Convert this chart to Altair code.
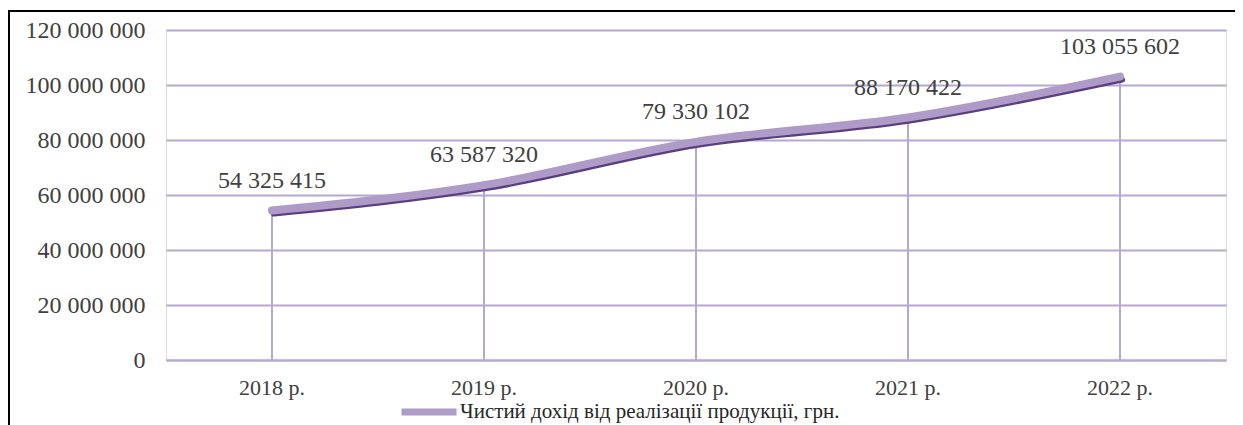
import altair as alt
import pandas as pd

years = ["2018 р.", "2019 р.", "2020 р.", "2021 р.", "2022 р."]
values = [54325415, 63587320, 79330102, 88170422, 103055602]
series_name = "Чистий дохід від реалізації продукції, грн."
y_ticks = [0, 20000000, 40000000, 60000000, 80000000, 100000000, 120000000]

df = pd.DataFrame({"year": years, "value": values, "series": [series_name] * len(years)})

FONT = "Liberation Serif"
GRID = "#b5a8d2"
LIGHT = "#ae9bc8"
DARK = "#5b3e7e"

x_enc = alt.X("year:N", sort=years,
              scale=alt.Scale(type="band", paddingInner=0, paddingOuter=0),
              axis=alt.Axis(title=None, labelAngle=0, ticks=False, domainColor=GRID,
                            domainWidth=2, labelFont=FONT, labelFontSize=22,
                            labelColor="#404040", labelPadding=17, grid=False))
y_scale = alt.Scale(domain=[0, 120000000], nice=False)
y_enc = alt.Y("value:Q", scale=y_scale,
              axis=alt.Axis(title=None, values=y_ticks, format=",d", domain=False, ticks=False,
                            grid=True, gridColor=GRID, gridWidth=2, labelFont=FONT,
                            labelFontSize=24, labelColor="#404040", labelPadding=21))

base = alt.Chart(df)

drops = base.mark_rule(color=GRID, strokeWidth=2).encode(
    x=x_enc, y=y_enc, y2=alt.datum(0))

shadow = base.mark_line(interpolate="monotone", color=DARK, strokeWidth=6,
                        strokeCap="round", xOffset=2, yOffset=3).encode(x=x_enc, y=y_enc)

main = base.mark_line(interpolate="monotone", strokeWidth=8, strokeCap="round").encode(
    x=x_enc, y=y_enc,
    color=alt.Color("series:N", scale=alt.Scale(range=[LIGHT]),
                    legend=alt.Legend(title=None, orient="none", legendX=232, legendY=351,
                                      symbolType="stroke", symbolSize=3025,
                                      symbolStrokeWidth=7, labelFont=FONT, labelFontSize=21,
                                      labelColor="#262626", labelOffset=0, padding=0,
                                      labelLimit=800)))

labels = base.mark_text(dy=-30, font=FONT, fontSize=24, color="#404040").encode(
    x=x_enc, y=y_enc, text=alt.Text("value:Q", format=",d"))

frame = alt.Chart(alt.Data(values=[{}])).mark_rect(
    filled=False, stroke="black", strokeWidth=2, clip=False).encode(
    x=alt.value(-157), x2=alt.value(1300), y=alt.value(-19), y2=alt.value(600))

chart = alt.layer(frame, drops, shadow, main, labels).properties(
    width=1060, height=330,
    padding={"left": 158, "top": 22, "right": 9, "bottom": 65},
    autosize="none",
).configure_view(stroke=None).configure(
    locale={"number": {"decimal": ".", "thousands": " ", "grouping": [3], "currency": ["", ""]}}
)

chart.save("out.html", embed_options={"renderer": "svg", "actions": False})
